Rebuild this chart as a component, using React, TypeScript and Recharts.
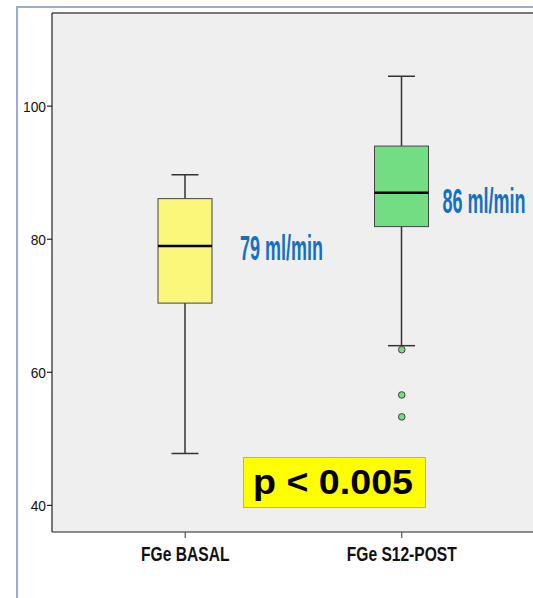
import React from "react";
import { ComposedChart, Bar, Scatter, XAxis, YAxis, CartesianGrid, ReferenceLine } from "recharts";

// ---- data ----
const categories = ["FGe BASAL", "FGe S12-POST"];
const minValues = [47.8, 64.0];
const q1Values = [70.4, 81.9];
const medianValues = [79.0, 87.0];
const q3Values = [86.1, 94.0];
const maxValues = [89.7, 104.5];
const medianLabels = ["79 ml/min", "86 ml/min"];
const outlierCategories = ["FGe S12-POST", "FGe S12-POST", "FGe S12-POST"];
const outlierValues = [63.4, 56.6, 53.3];
const yTicks = [40, 60, 80, 100];
const yDomain: [number, number] = [36, 114];
const pValueText = "p < 0.005";

// ---- styles ----
const boxColors = ["#fbf77a", "#72dd83"];
const labelColor = "#1670c2";
const labelDx = [28, 14];
const labelDy = [14, 20];
const FONT = "'Liberation Sans', Arial, Helvetica, sans-serif";

const data = categories.map((name, i) => ({
  name,
  range: [minValues[i], maxValues[i]],
  min: minValues[i],
  q1: q1Values[i],
  median: medianValues[i],
  q3: q3Values[i],
  max: maxValues[i],
  label: medianLabels[i],
  idx: i,
}));

const outliers = outlierValues.map((v, i) => ({ name: outlierCategories[i], value: v }));

const BoxShape = (props: any) => {
  const { x, y, width, height, payload } = props;
  if (payload == null) return null;
  const { min, max, q1, q3, median, label, idx } = payload;
  const yOf = (v: number) => y + (height * (max - v)) / (max - min);
  const cx = x + width / 2;
  const capW = width / 2;
  const yq3 = yOf(q3);
  const yq1 = yOf(q1);
  const ymed = yOf(median);
  return (
    <g>
      <line x1={cx} x2={cx} y1={yOf(max)} y2={yq3} stroke="#333" strokeWidth={1.5} />
      <line x1={cx} x2={cx} y1={yq1} y2={yOf(min)} stroke="#333" strokeWidth={1.5} />
      <line x1={cx - capW / 2} x2={cx + capW / 2} y1={yOf(max)} y2={yOf(max)} stroke="#333" strokeWidth={1.5} />
      <line x1={cx - capW / 2} x2={cx + capW / 2} y1={yOf(min)} y2={yOf(min)} stroke="#333" strokeWidth={1.5} />
      <rect x={x} y={yq3} width={width} height={yq1 - yq3} fill={boxColors[idx]} stroke="#444" strokeWidth={1} />
      <line x1={x} x2={x + width} y1={ymed} y2={ymed} stroke="#000" strokeWidth={2.5} />
      <text
        x={x + width + labelDx[idx]}
        y={ymed + labelDy[idx]}
        fontFamily={FONT}
        fontWeight="bold"
        fontSize={35}
        fill={labelColor}
        textLength={83}
        lengthAdjust="spacingAndGlyphs"
      >
        {label}
      </text>
    </g>
  );
};

const OutlierShape = (props: any) => {
  const { cx, cy } = props;
  if (cx == null || cy == null) return null;
  return <circle cx={cx} cy={cy} r={3.3} fill={boxColors[1]} stroke="#333" strokeWidth={0.9} />;
};

const XTick = (props: any) => {
  const { x, y, payload } = props;
  return (
    <g transform={`translate(${x},${y + 21}) scale(0.78,1)`}>
      <text x={0} y={0} textAnchor="middle" fontFamily={FONT} fontWeight="bold" fontSize={20} fill="#111">
        {payload.value}
      </text>
    </g>
  );
};

const YTick = (props: any) => {
  const { x, y, payload } = props;
  return (
    <g transform={`translate(${x},${y + 5.5}) scale(0.92,1)`}>
      <text x={0} y={0} textAnchor="end" fontFamily={FONT} fontSize={15} fill="#111">
        {payload.value}
      </text>
    </g>
  );
};

export default function App() {
  return (
    <div style={{ position: "absolute", left: 0, top: 0, width: 560, height: 598, overflow: "hidden", background: "#fff" }}>
      <style>{"html,body{overflow:hidden;}"}</style>
      <div
        style={{
          position: "absolute",
          left: 16,
          top: 6,
          width: 700,
          height: 800,
          borderLeft: "2px solid #9badcb",
          borderTop: "2px solid #9badcb",
          background: "#fff",
        }}
      />
      <div style={{ position: "absolute", left: 0, top: 0, width: 560, height: 598 }}>
        <ComposedChart width={560} height={598} data={data} margin={{ top: 13, right: 25, left: 16, bottom: 36 }}>
          <CartesianGrid fill="#efefef" stroke="none" horizontal={false} vertical={false} />
          <XAxis
            dataKey="name"
            type="category"
            allowDuplicatedCategory={false}
            padding={{ left: 25, right: 25 }}
            tickSize={6}
            height={30}
            axisLine={{ stroke: "#222", strokeWidth: 1.2 }}
            tickLine={{ stroke: "#555", strokeWidth: 1.2 }}
            tick={<XTick />}
            interval={0}
          />
          <YAxis
            type="number"
            domain={yDomain}
            ticks={yTicks}
            width={36}
            tickSize={5}
            tickMargin={1}
            axisLine={{ stroke: "#222", strokeWidth: 1.2 }}
            tickLine={{ stroke: "#222", strokeWidth: 1.2 }}
            tick={<YTick />}
            allowDataOverflow
          />
          <ReferenceLine y={yDomain[1]} stroke="#777" strokeWidth={2} />
          <Bar dataKey="range" barSize={54} shape={<BoxShape />} isAnimationActive={false} />
          <Scatter data={outliers} dataKey="value" shape={<OutlierShape />} isAnimationActive={false} />
        </ComposedChart>
      </div>
      <div
        style={{
          position: "absolute",
          left: 243,
          top: 457,
          width: 181,
          height: 49,
          background: "#ffff00",
          border: "1px solid #9ab0d4",
        }}
      >
        <svg width={181} height={49} style={{ display: "block" }}>
          <text
            x={9}
            y={36}
            fontFamily={FONT}
            fontWeight="bold"
            fontSize={35}
            fill="#000"
            textLength={160}
            lengthAdjust="spacingAndGlyphs"
          >
            {pValueText}
          </text>
        </svg>
      </div>
    </div>
  );
}
